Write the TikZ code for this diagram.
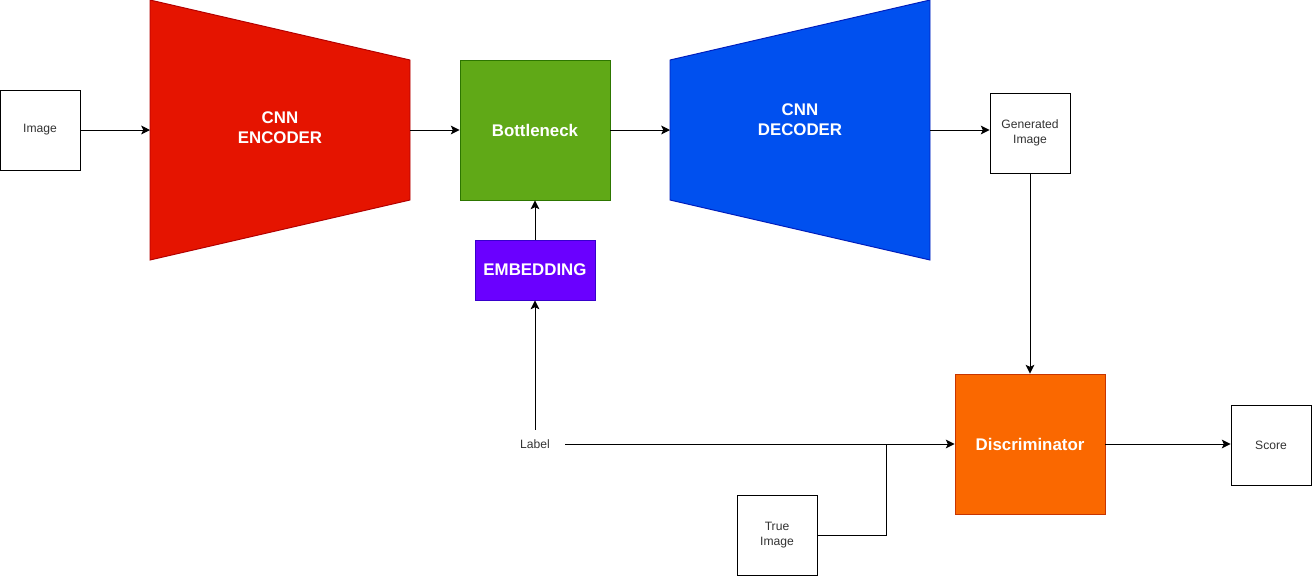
\documentclass[tikz,border=0pt]{standalone}
\usepackage{fontspec}
\setmainfont{Liberation Sans}
\usepackage{xcolor}
\usetikzlibrary{positioning, arrows.meta}
\definecolor{EncRed}{HTML}{E51400}
\definecolor{EncEdge}{HTML}{B20000}
\definecolor{BotGreen}{HTML}{60A917}
\definecolor{BotEdge}{HTML}{2D7600}
\definecolor{DecBlue}{HTML}{0050EF}
\definecolor{DecEdge}{HTML}{001DBC}
\definecolor{EmbPurple}{HTML}{6A00FF}
\definecolor{EmbEdge}{HTML}{3700CC}
\definecolor{DisOrange}{HTML}{FA6800}
\definecolor{DisEdge}{HTML}{C73500}
\definecolor{txtGray}{HTML}{333333}

\tikzset{
  plainbox/.style={draw, fill=white, line width=0.55pt, minimum width=1.6cm, minimum height=1.6cm,
    align=center, text=txtGray, font=\fontsize{6.9}{8.2}\selectfont},
  colbox/.style={line width=0.55pt, text=white, align=center, font=\bfseries\fontsize{9.6}{11.2}\selectfont},
  wtext/.style={text=white, align=center, font=\bfseries\fontsize{9.6}{11.2}\selectfont},
  conn/.style={->, line width=0.55pt},
}

\begin{document}
\begin{tikzpicture}[x=0.02cm, y=-0.02cm, >={Stealth[length=5pt,width=5pt,inset=1.2pt]}]
  \useasboundingbox (0,0) rectangle (1312,576);
  % encoder / decoder bodies
  \filldraw[fill=EncRed, draw=EncEdge, line width=0.55pt] (150,0) -- (410,60) -- (410,200) -- (150,260) -- cycle;
  \filldraw[fill=DecBlue, draw=DecEdge, line width=0.55pt] (670,60) -- (930,0) -- (930,260) -- (670,200) -- cycle;
  \coordinate (encL) at (150,130); \coordinate (encR) at (410,130);
  \coordinate (decL) at (670,130); \coordinate (decR) at (930,130);
  \node[wtext] (enc) at (280,128) {CNN\\ENCODER};
  \node[wtext] (dec) at (800,120) {CNN\\DECODER};
  % boxes
  \node[plainbox] (img) at (40,130) {Image};
  \node[colbox, fill=BotGreen, draw=BotEdge, minimum width=3cm, minimum height=2.8cm, text depth=0pt] (bot) at (535,130) {Bottleneck};
  \node[colbox, fill=EmbPurple, draw=EmbEdge, minimum width=2.4cm, minimum height=1.2cm, text depth=0pt] (emb) at (535,270) {EMBEDDING};
  \node[plainbox] (gen) at (1030,133) {Generated\\Image};
  \node[text=txtGray, font=\fontsize{6.9}{8.2}\selectfont, minimum width=1.2cm, minimum height=0.56cm, inner sep=0pt] (lab) at (535,444) {Label};
  \node[colbox, fill=DisOrange, draw=DisEdge, minimum width=3cm, minimum height=2.8cm, text depth=0pt] (dis) at (1030,444) {Discriminator};
  \node[plainbox] (score) at (1271,445) {Score};
  \node[plainbox] (true) at (777,535) {True\\Image};
  \coordinate (junc) at (886,444);
  % connectors
  \draw[conn] (img) -- (encL);
  \draw[conn] (encR) -- (bot);
  \draw[conn] (bot) -- (decL);
  \draw[conn] (decR) -- (gen.west |- decR);
  \draw[conn] (gen) -- (dis);
  \draw[conn] (emb) -- (bot);
  \draw[conn] (lab) -- (emb);
  \draw[conn] (lab) -- (dis);
  \draw[line width=0.55pt] (true) -| (junc);
  \draw[conn] (dis) -- (score.west |- dis);
\end{tikzpicture}
\end{document}
